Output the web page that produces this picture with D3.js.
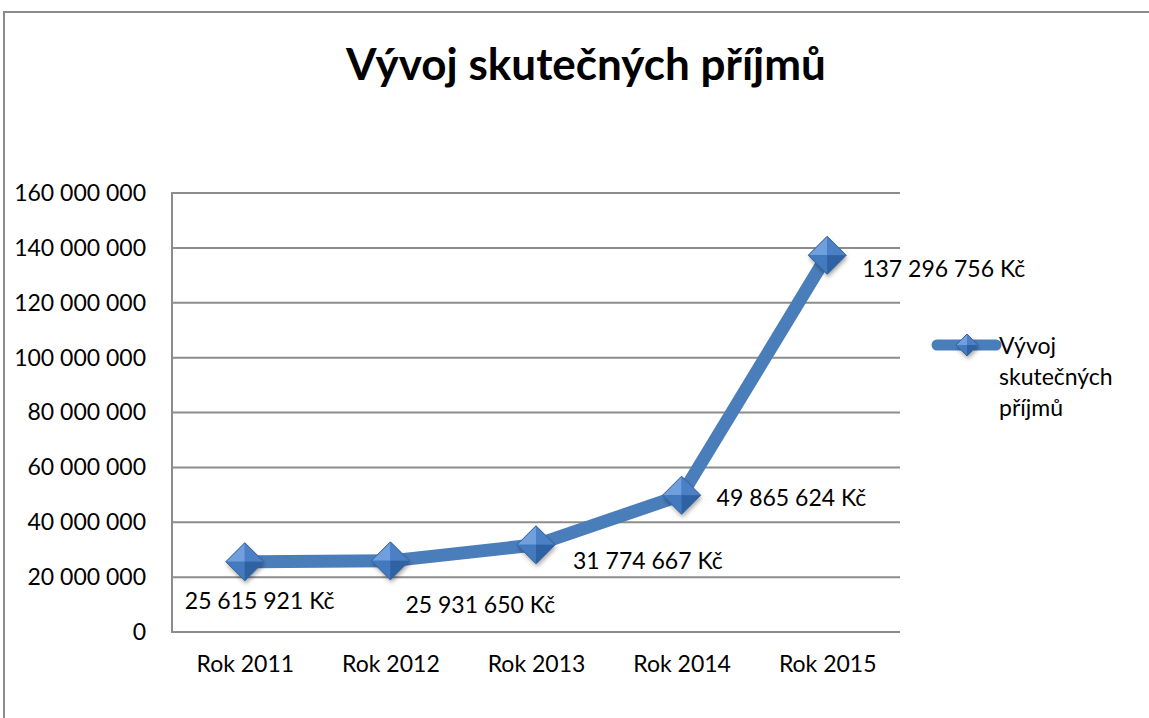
<!DOCTYPE html>
<html>
<head>
<meta charset="utf-8">
<script src="https://cdn.jsdelivr.net/npm/d3@7"></script>
<style>
body{margin:0;background:#fff}
svg{display:block;font-family:Lato,"Open Sans",sans-serif}
</style>
</head>
<body>
<svg></svg>
<script>
var years=["Rok 2011","Rok 2012","Rok 2013","Rok 2014","Rok 2015"]
var prijmy=[25615921,25931650,31774667,49865624,137296756]
var yTicks=[0,20000000,40000000,60000000,80000000,100000000,120000000,140000000,160000000]
var seriesName="Vývoj skutečných příjmů"

// label offsets from the point (manually placed in the original)
var labelDx=[-60,15,37,35,35]
var labelDy=[38,43,15,2,13]

var W=1149,H=718
var svg=d3.select("svg").attr("width",W).attr("height",H)

var cz=d3.formatLocale({decimal:",",thousands:"\u00a0",grouping:[3],currency:[""," Kč"]})
var fmt=cz.format(",d")

// chart border
svg.append("path")
  .attr("d","M4,"+(H+5)+" V12 H"+(W+5))
  .attr("fill","none").attr("stroke","#8c8c8c").attr("stroke-width",2)

svg.append("text")
  .text(seriesName)
  .attr("x",586).attr("y",63)
  .attr("text-anchor","middle").attr("dominant-baseline","central")
  .style("font-size","44px").style("font-weight","bold")

var x=d3.scalePoint().domain(years).range([172,900]).padding(0.5)
var y=d3.scaleLinear().domain([0,160000000]).range([632,193])

// gridlines
svg.append("g").selectAll("line").data(yTicks).enter().append("line")
  .attr("x1",172).attr("x2",900)
  .attr("y1",d=>y(d)).attr("y2",d=>y(d))
  .attr("stroke","#8c8c8c").attr("stroke-width",2)
svg.append("line").attr("x1",172).attr("x2",172).attr("y1",192).attr("y2",633)
  .attr("stroke","#8c8c8c").attr("stroke-width",2)

var yAxis=svg.append("g").attr("transform","translate(172,0)")
  .call(d3.axisLeft(y).tickValues(yTicks).tickSize(0).tickPadding(26).tickFormat(d=>fmt(d)))
yAxis.attr("font-family",null).attr("font-size",null)
yAxis.select(".domain").remove()
yAxis.selectAll("text").style("font-size","23px").attr("fill","#000")

var xAxis=svg.append("g").attr("transform","translate(0,632)")
  .call(d3.axisBottom(x).tickSize(0).tickPadding(24))
xAxis.attr("font-family",null).attr("font-size",null)
xAxis.select(".domain").remove()
xAxis.selectAll("text").style("font-size","23px").attr("fill","#000")

var blue="#4a7ebb"
var line=d3.line().x((d,i)=>x(years[i])).y(d=>y(d))
svg.append("path").datum(prijmy)
  .attr("d",line).attr("fill","none")
  .attr("stroke",blue).attr("stroke-width",13).attr("stroke-linejoin","round")

var defs=svg.append("defs")
defs.append("filter").attr("id","sh").attr("x","-50%").attr("y","-50%").attr("width","200%").attr("height","200%")
  .append("feDropShadow").attr("dx",1).attr("dy",3).attr("stdDeviation",2).attr("flood-color","#000").attr("flood-opacity",0.35)

function diamond(g,r){
  var faces=[
    {p:[[0,-r],[-r,0],[0,0]],c:"#6f9fdc"},
    {p:[[0,-r],[r,0],[0,0]],c:"#4b80c6"},
    {p:[[-r,0],[0,r],[0,0]],c:"#4279bf"},
    {p:[[r,0],[0,r],[0,0]],c:"#2f62a3"}
  ]
  g.append("path").attr("d","M0,"+(-r)+"L"+r+",0L0,"+r+"L"+(-r)+",0Z")
    .attr("fill","#3e6faf").attr("filter","url(#sh)")
  faces.forEach(f=>{
    g.append("path").attr("d","M"+f.p.map(q=>q.join(",")).join("L")+"Z").attr("fill",f.c)
  })
  g.append("path").attr("d","M0,"+(-r)+"L"+r+",0L0,"+r+"L"+(-r)+",0Z")
    .attr("fill","none").attr("stroke","#3a6398").attr("stroke-width",1)
}

var pts=svg.append("g").selectAll("g").data(prijmy).enter().append("g")
  .attr("transform",(d,i)=>"translate("+x(years[i])+","+y(d)+")")
pts.each(function(){diamond(d3.select(this),19)})

svg.append("g").selectAll("text").data(prijmy).enter().append("text")
  .text(d=>fmt(d)+" Kč")
  .attr("x",(d,i)=>x(years[i])+labelDx[i])
  .attr("y",(d,i)=>y(d)+labelDy[i])
  .attr("dominant-baseline","central")
  .style("font-size","23px")

// legend
var lg=svg.append("g").attr("transform","translate(937,345)")
lg.append("line").attr("x1",0).attr("x2",59).attr("y1",0).attr("y2",0)
  .attr("stroke",blue).attr("stroke-width",11).attr("stroke-linecap","round")
diamond(lg.append("g").attr("transform","translate(30,0)"),11)
var lt=lg.append("text").attr("x",62).attr("y",0).style("font-size","23px")
;["Vývoj","skutečných","příjmů"].forEach((s,i)=>{
  lt.append("tspan").attr("x",62).attr("dy",i?"1.35em":0).attr("dominant-baseline","central").text(s)
})
</script>
</body>
</html>
